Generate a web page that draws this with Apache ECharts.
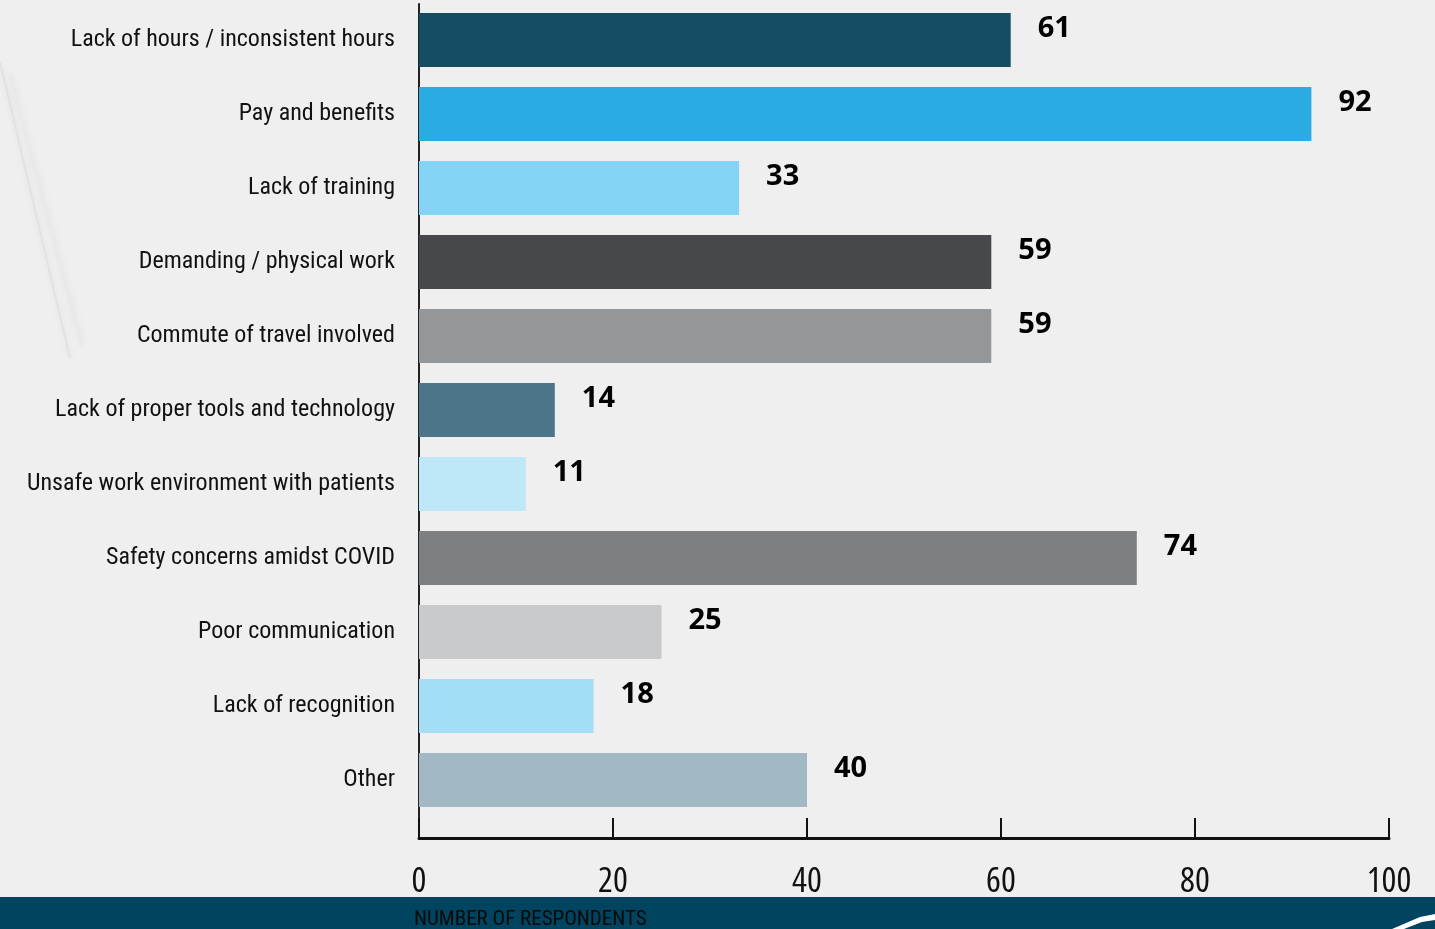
<!DOCTYPE html>
<html>
<head>
<meta charset="utf-8">
<script src="https://cdn.jsdelivr.net/npm/echarts@6/dist/echarts.min.js"></script>
<style>
html,body{margin:0;padding:0;background:#efefef;}
#chart{width:1435px;height:929px;}
</style>
</head>
<body>
<div id="chart"></div>
<script>
const categories = [
  "Lack of hours / inconsistent hours",
  "Pay and benefits",
  "Lack of training",
  "Demanding / physical work",
  "Commute of travel involved",
  "Lack of proper tools and technology",
  "Unsafe work environment with patients",
  "Safety concerns amidst COVID",
  "Poor communication",
  "Lack of recognition",
  "Other"
];
const respondents = [61, 92, 33, 59, 59, 14, 11, 74, 25, 18, 40];
const xTicks = [0, 20, 40, 60, 80, 100];
const axisTitle = "NUMBER OF RESPONDENTS";
const barColors = ["#154d63", "#2aabe2", "#84d4f5", "#46484c", "#949799", "#4c7589",
                   "#bee7f7", "#7e7f81", "#c9cacc", "#a3ddf6", "#a2b8c4"];

const cond = "'Roboto Condensed', 'Liberation Sans', sans-serif";
const chart = echarts.init(document.getElementById('chart'));
chart.setOption({
  backgroundColor: '#efefef',
  animation: false,
  grid: [
    {left: 419, right: 46, top: 3, bottom: 112},
    {left: 419, right: 46, top: 4, bottom: 91}
  ],
  xAxis: [
    {
      type: 'value', gridIndex: 0, min: xTicks[0], max: xTicks[xTicks.length - 1],
      interval: xTicks[1] - xTicks[0], offset: 21,
      axisLine: {show: true, lineStyle: {color: '#111', width: 3}},
      axisTick: {show: true, inside: true, length: 20, lineStyle: {color: '#111', width: 2}},
      splitLine: {show: false},
      axisLabel: {fontFamily: "'Open Sans', sans-serif", fontStyle: 'condensed', fontSize: 35, color: '#111', margin: 27}
    },
    {type: 'value', gridIndex: 1, show: false, min: 0, max: 1}
  ],
  yAxis: [
    {
      type: 'category', gridIndex: 0, data: categories, inverse: true,
      axisLine: {show: false}, axisTick: {show: false},
      axisLabel: {fontFamily: cond, fontSize: 24, color: '#111', margin: 24}
    },
    {
      type: 'value', gridIndex: 1, min: 0, max: 1,
      axisLine: {show: true, lineStyle: {color: '#222', width: 2}},
      axisTick: {show: false}, axisLabel: {show: false}, splitLine: {show: false}
    }
  ],
  series: [{
    type: 'bar', xAxisIndex: 0, yAxisIndex: 0,
    data: respondents.map((v, i) => ({value: v, itemStyle: {color: barColors[i]}})),
    barWidth: 54,
    label: {
      show: true, position: 'right', distance: 27, offset: [0, -11],
      fontFamily: "'Open Sans', sans-serif", fontWeight: 'bold', fontSize: 29, color: '#000'
    }
  }],
  graphic: [
    {type: 'line', shape: {x1: 0, y1: 62, x2: 70, y2: 358}, style: {stroke: '#e2e2e2', lineWidth: 2, shadowBlur: 6, shadowColor: 'rgba(0,0,0,0.08)'}, z: -1},
    {type: 'line', shape: {x1: 10, y1: 75, x2: 82, y2: 345}, style: {stroke: '#e9e9e9', lineWidth: 4, shadowBlur: 8, shadowColor: 'rgba(0,0,0,0.05)'}, z: -1},
    {type: 'rect', left: 0, top: 897, shape: {width: 1435, height: 32}, style: {fill: '#00445f'}, z: 0},
    {type: 'text', left: 414, top: 909, style: {text: axisTitle, font: "21px " + cond, fill: '#0a0a0a'}},
    {type: 'polygon', shape: {points: [[1392, 929], [1420, 917], [1435, 914], [1435, 920], [1422, 922], [1404, 929]]}, style: {fill: '#ffffff'}}
  ]
});
</script>
</body>
</html>
